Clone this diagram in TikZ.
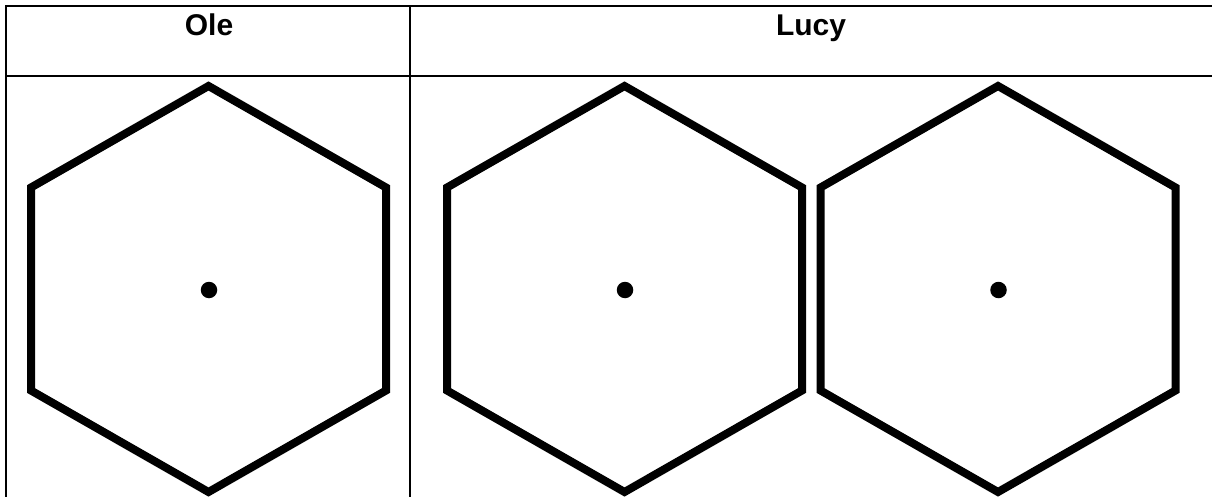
\documentclass[tikz,border=0pt]{standalone}
\usepackage{fontspec}
\setmainfont{Liberation Sans}
\begin{document}
\begin{tikzpicture}[x=1pt,y=-1pt,
  grid/.style={line width=2pt,black},
  hexa/.style={line width=8pt,line join=miter,black},
  centre/.style={circle,fill=black,inner sep=0pt,minimum size=16.5pt},
  head/.style={anchor=base,font=\bfseries\fontsize{30}{33}\selectfont}]
\useasboundingbox (0,0) rectangle (1212,497);
% table
\draw[grid] (1212,6) -- (6,6) -- (6,497);
\draw[grid] (6,76.5) -- (1212,76.5);
\draw[grid] (410,6) -- (410,497);
\node[head] (ole) at (209,36) {Ole};
\node[head] (lucy) at (811,36) {Lucy};
% hexagons
\foreach \cx/\nm in {208.5/h1,624.5/h2,998/h3}{
  \draw[hexa] (\cx,86) -- (\cx+177.5,187.5) -- (\cx+177.5,390.5) -- (\cx,492)
    -- (\cx-177.5,390.5) -- (\cx-177.5,187.5) -- cycle;
  \node[centre] (\nm) at (\cx+0.5,290) {};
}
\end{tikzpicture}
\end{document}
